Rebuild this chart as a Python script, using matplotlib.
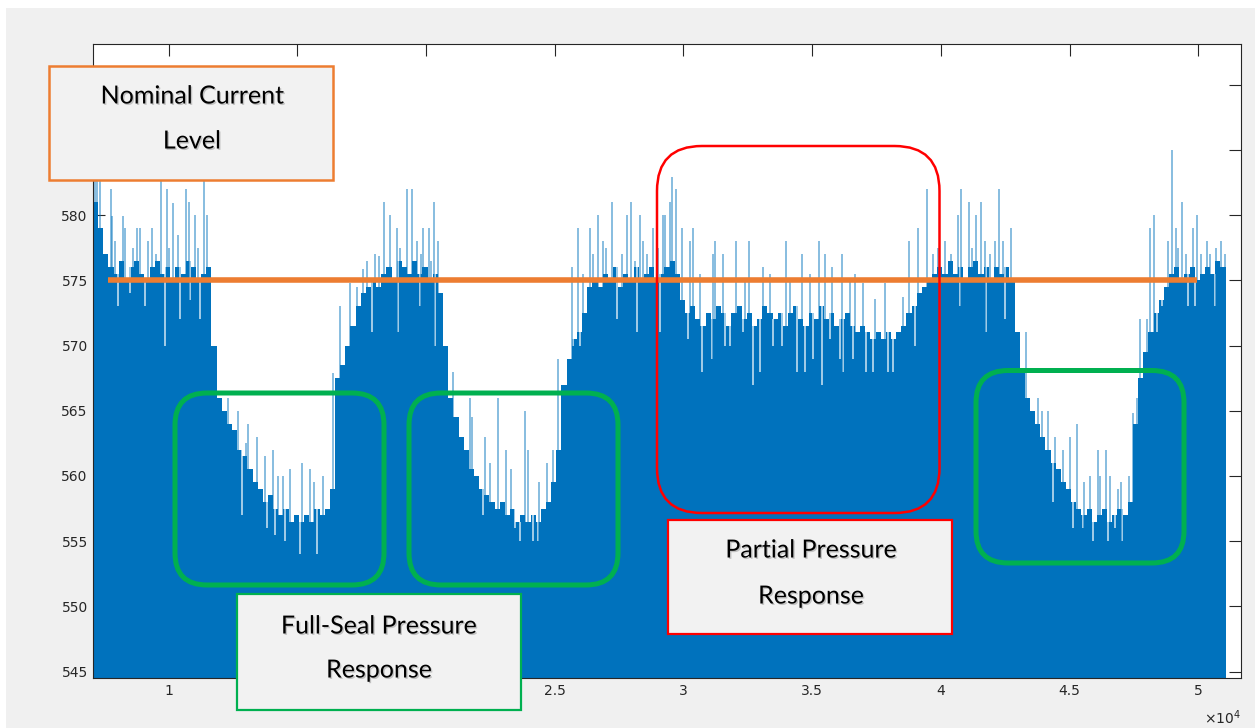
import numpy as np
import matplotlib.pyplot as plt
import matplotlib.patheffects as pe
from matplotlib.patches import FancyBboxPatch, Rectangle
from matplotlib.transforms import IdentityTransform

# solid level of the current trace, one value every 200 samples from 7060
floor_x = list(range(7060, 51061, 200))
floor_y = [581, 579, 577, 576, 575.5, 576.5, 575, 576, 576.5, 575.5,
           575, 576, 576.5, 575.5, 576, 575, 576, 575.5, 576.5, 576,
           575, 575.5, 576, 570, 566, 565, 564, 563.5, 562, 561.5,
           560.5, 559.5, 559, 558, 558.5, 557.5, 557, 557.5, 556.5, 557,
           556.5, 557, 556.5, 557.5, 557, 557.5, 559, 567.5, 568.5, 570,
           571.5, 573, 574, 574.5, 575, 574.5, 575.5, 576, 575, 576.5,
           576, 575.5, 576.5, 575.5, 576, 575, 575.5, 574, 570, 566,
           564.5, 563, 562, 560.5, 560, 559, 558.5, 558, 557.5, 558,
           557, 557.5, 556.5, 557, 556.5, 557, 556.5, 557.5, 558, 559.5,
           562, 567, 569, 570.5, 571, 572.5, 574.5, 575, 574.5, 575.5,
           575, 576, 574.5, 575.5, 575, 576, 575, 575.5, 576, 575,
           575.5, 576, 576.5, 575.5, 573.5, 572.5, 573, 572, 571.5, 572.5,
           572, 573, 572.5, 571.5, 572.5, 573, 572, 572.5, 571.5, 572,
           573, 572.5, 572, 572.5, 571.5, 572.5, 573, 572, 571.5, 572.5,
           572, 573, 572, 572.5, 571.5, 572, 572.5, 571.5, 571, 571.5,
           571, 570.5, 571, 570.5, 571, 570.5, 571, 571.5, 572.5, 573,
           574, 574.5, 575, 575.5, 576, 575.5, 576.5, 575.5, 576, 575,
           576, 576.5, 575.5, 576, 575, 576, 575.5, 576, 575, 571,
           568, 566, 565, 564, 563, 562, 561, 560.5, 559.5, 559,
           558, 557.5, 557, 557.5, 556.5, 557, 557.5, 556.5, 557, 557.5,
           557, 558, 564, 567.5, 569.5, 571, 572.5, 573.5, 574.5, 575.5,
           576, 575, 575.5, 576, 575, 575.5, 576, 575.5, 576.5, 576,
           576]

# upward spikes
spike_x = [7140, 7210, 7330, 7750, 7800, 7910, 8210, 8290, 8600, 8760, 8890, 9200,
           9350, 9500, 9690, 9930, 10000, 10170, 10360, 10660, 10790, 11020, 11140,
           11370, 11480,
           11800, 12300, 12690, 13000, 13080, 13430, 13740, 14050, 14250, 14440,
           14710, 15180, 15490, 15650, 16000,
           16370, 16660, 17040, 17300, 17550, 17700, 18000, 18170, 18360, 18600,
           18860, 19000, 19260, 19440, 19600, 19640, 19800, 19870, 20110, 20200,
           20310, 20450,
           21050, 21380, 21700, 21770, 22290, 22500, 22790, 23100, 23300, 23840,
           23960, 24400, 24690, 24920,
           25120, 25660, 25900, 26100, 26370, 26500, 26680, 26870, 27000, 27210,
           27600, 27790, 27960, 28100, 28310, 28430, 28600, 28800, 29000, 29200,
           29280, 29480, 29570, 29700, 29930, 30250, 30370, 30640, 31150, 31220,
           31540, 32040, 32390, 32550, 33090, 33360, 33980, 34140, 34590, 34920,
           35260, 35500, 35760, 36150, 36470, 36660, 36970, 37440, 37830, 38530,
           38760, 39110, 39450, 39690, 39900, 40160, 40400, 40650, 40780, 41090,
           41200, 41360, 41560, 41710, 41900, 42100, 42260, 42410, 42720,
           43070, 43310, 43770, 43920, 44160, 44430, 44740, 45020, 45280, 45550,
           45790, 46100, 46200, 46400, 46570, 46880, 47000, 47310,
           47460, 47620, 47740, 48010, 48120, 48280, 48820, 48970, 49130, 49200,
           49360, 49510, 49790, 49950, 50100, 50330, 50460, 50700, 50870, 51030]
spike_y = [584, 583, 582.7, 582, 579.9, 578, 579.9, 579, 577.5, 579, 579, 578,
           579, 577, 582.6, 582, 577.5, 580.9, 578.5, 582, 581, 580, 577.5,
           582.6, 580,
           569.9, 566, 565, 562.5, 564, 563, 561.5, 562, 560, 560,
           560.5, 561, 560.5, 559.5, 560,
           567.9, 573, 574.8, 574.5, 575.9, 576.5, 577, 576.9, 581, 580,
           579, 577.5, 582, 582, 576.5, 578, 577, 579, 579, 576.5,
           581, 578,
           568, 563, 566, 564.5, 563, 561, 566, 562, 560.5, 565,
           562, 559.5, 561, 562,
           569, 576, 579, 575.5, 579, 577, 580, 578, 577.5, 581,
           577, 580, 581, 576.5, 580, 578, 577, 579, 577.5, 580,
           580, 581, 582.9, 582, 579, 578, 579, 575.5, 577, 578,
           577, 578, 575, 578, 576, 575.5, 578, 575, 577, 575.5,
           578, 577, 576, 577, 575, 575.5, 574.8, 573.6, 574.8, 573.7,
           578, 579, 582, 577, 577.5, 578, 577, 580, 582, 581,
           577.5, 580, 581, 578, 577, 578, 582, 578, 579,
           567, 571, 566, 565, 565, 563, 562, 563, 564, 559.5,
           560, 562, 560, 562, 560, 559, 559.5, 560,
           564.8, 566, 572, 572, 579, 580, 578, 585, 579, 577.5,
           581, 577, 579, 580, 577, 578, 577, 577.5, 578, 577]

# downward dips
notch_x = [8030, 8500, 9080, 9860, 10440, 10830, 11220,
           12850, 13820, 14130, 14520, 15100, 15760,
           16920, 17890, 18900, 19760, 20350,
           22210, 23450, 23650, 24150, 24350,
           25710, 25980, 27400, 28190, 29090,
           30180, 30710, 31100, 31610, 31810, 32310, 32710, 32970, 33480, 33830,
           34400, 34720, 35030, 35370, 35690, 36080, 36200, 36590, 37090, 37360,
           37950, 38140, 38990, 40740, 41750, 42490,
           44350, 45130, 45520, 45910, 46490, 46760, 47040,
           48380, 48580, 49600, 49870, 50650]
notch_y = [573, 574, 573, 570, 572, 573.5, 572,
           557, 556, 555.5, 555, 554, 554,
           571, 571, 571, 573, 570,
           557, 556, 555, 555, 555,
           570, 570, 572, 571, 571,
           570.5, 568, 569, 570, 570, 571, 567, 568, 570, 570,
           568, 568, 569, 567, 570.5, 569, 568, 569, 568, 568,
           568, 568, 570, 573, 571, 572,
           558, 556, 556, 555, 555, 556, 555,
           571, 573, 573, 573, 573]

nominal_level = 575
nominal_x = [7640, 49950]

xticks = [10000, 15000, 20000, 25000, 30000, 35000, 40000, 45000, 50000]
xticklabels = ['1', '1.5', '2', '2.5', '3', '3.5', '4', '4.5', '5']
yticks = [545, 550, 555, 560, 565, 570, 575, 580, 585, 590]

W, H = 1255, 728
blue = '#0072BD'
ink = '#262626'

fig = plt.figure(figsize=(W / 100, H / 100), dpi=100)
fig.patch.set_facecolor('white')
fig.add_artist(Rectangle((6, 0), W - 6, H - 8, transform=IdentityTransform(),
                         fc='#f0f0f0', ec='none', zorder=-5))

ax = fig.add_axes([93.3 / W, 1 - 678.3 / H, (1240.7 - 93.3) / W, (678.3 - 44.3) / H])
ax.set_facecolor('white')

ybot = 544.48
ax.fill_between(floor_x, floor_y, 540, step='post', color=blue, lw=0)

fx = np.array(floor_x)
fy = np.array(floor_y)
notch_top = fy[np.searchsorted(fx, notch_x, side='right') - 1]
ax.vlines(notch_x, notch_y, notch_top, colors='white', lw=1.2, alpha=0.75, zorder=2)
ax.vlines(spike_x, 540, spike_y, colors=blue, lw=1.2, alpha=0.55, zorder=2)

ax.plot(nominal_x, [nominal_level, nominal_level], color='#ED7D31', lw=4,
        solid_capstyle='butt', zorder=3)

ax.set_xlim(7071, 51647)
ax.set_ylim(ybot, 593.1)
ax.set_xticks(xticks)
ax.set_xticklabels(xticklabels)
ax.set_yticks(yticks)
ax.set_axisbelow(True)
ax.tick_params(direction='in', length=8.5, width=0.8, colors=ink, top=True, right=True,
               labelsize=10, pad=4)
for s in ax.spines.values():
    s.set_color(ink)
    s.set_linewidth(0.8)

fig.text(1222 / W, 1 - 718 / H, r'$\times\mathregular{10^{4}}$', ha='center', va='center',
         fontsize=10, color=ink)


# annotation boxes (image pixel coords, top-left origin)
def box(x0, y0, x1, y1, ec, lw, r=0, fc='none'):
    style = 'round,pad=0,rounding_size=%g' % r if r else 'square,pad=0'
    fig.add_artist(FancyBboxPatch((x0, H - y1), x1 - x0, y1 - y0, boxstyle=style,
                                  transform=IdentityTransform(), ec=ec, fc=fc, lw=lw,
                                  zorder=5))


shadow = [pe.SimplePatchShadow(offset=(1.0, -1.0), shadow_rgbFace='#888888', alpha=0.45),
          pe.Normal()]


def label(x, y, s):
    fig.text(x / W, 1 - y / H, s, ha='center', va='center', fontsize=18,
             family='Lato', color='black', path_effects=shadow, zorder=6)


box(175, 393, 384, 585, '#00B050', 3.6, r=32)
box(409, 393, 618, 585, '#00B050', 3.6, r=32)
box(976, 370.5, 1184, 563, '#00B050', 3.6, r=32)
box(657, 146, 939.5, 513, '#FF0000', 1.8, r=45)

box(49.3, 65.7, 333.3, 180, '#ED7D31', 1.8, fc='#f2f2f2')
box(236.7, 594, 521, 710, '#00B050', 1.6, fc='#f2f2f2')
box(668, 520, 952, 634, '#FF0000', 1.6, fc='#f2f2f2')

label(192, 96, 'Nominal Current')
label(192, 141, 'Level')
label(379, 626, 'Full-Seal Pressure')
label(379, 670, 'Response')
label(811, 550, 'Partial Pressure')
label(811, 596, 'Response')

fig.savefig('out.png', dpi=100, facecolor=fig.get_facecolor())
